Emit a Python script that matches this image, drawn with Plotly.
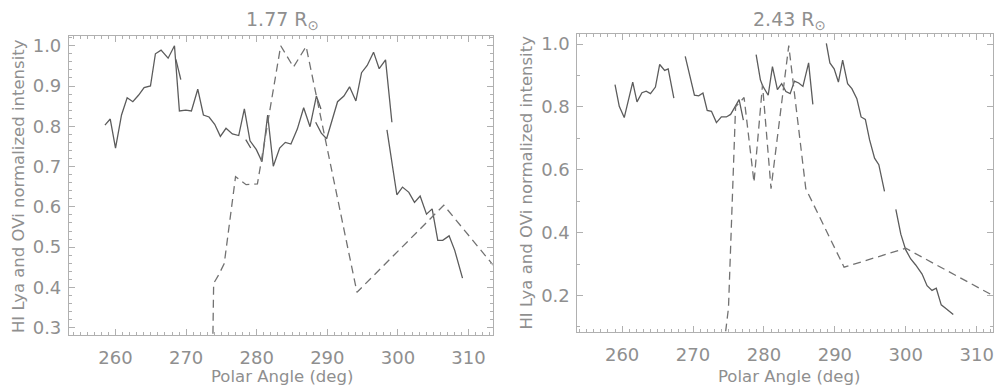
import plotly.graph_objects as go

# ---------------- data: left panel (1.77 Rsun) ----------------
l_solid_a_x = [258.5, 259.25, 260.0, 260.85, 261.65, 262.45, 263.25, 264.05, 264.95, 265.65,
               266.45, 267.45, 268.35, 269.05, 269.95, 270.75, 271.65, 272.45, 273.25, 274.05,
               274.85, 275.65, 276.55, 277.45, 278.25, 279.05, 279.95, 280.75, 281.55, 282.35,
               283.25, 284.05, 284.85, 285.75, 286.65, 287.55, 288.45, 289.1]
l_solid_a_y = [0.803, 0.818, 0.746, 0.828, 0.871, 0.861, 0.877, 0.896, 0.900, 0.980,
               0.989, 0.969, 1.000, 0.838, 0.840, 0.838, 0.892, 0.828, 0.823, 0.805,
               0.775, 0.795, 0.781, 0.777, 0.843, 0.764, 0.742, 0.712, 0.828, 0.701,
               0.746, 0.760, 0.756, 0.793, 0.846, 0.799, 0.875, 0.843]
l_tail1_x = [268.55, 269.25]
l_tail1_y = [0.966, 0.916]
l_tail2_x = [278.45, 279.15]
l_tail2_y = [0.767, 0.746]
l_solid_c_x = [288.35, 289.15, 289.9, 290.65, 291.45, 292.35, 293.15, 294.05, 294.85, 295.65,
               296.55, 297.35, 298.25, 299.15]
l_solid_c_y = [0.810, 0.783, 0.769, 0.816, 0.861, 0.875, 0.898, 0.863, 0.933, 0.951,
               0.984, 0.943, 0.965, 0.810]
l_solid_d_x = [298.45, 299.05, 299.85, 300.65, 301.55, 302.35, 303.15, 304.05, 304.85, 305.65,
               306.35, 307.25, 308.05, 309.15]
l_solid_d_y = [0.791, 0.722, 0.630, 0.649, 0.636, 0.611, 0.627, 0.582, 0.595, 0.517,
               0.517, 0.528, 0.492, 0.423]
l_dash_x = [273.8, 273.9, 274.6, 275.4, 277.0, 278.5, 280.1, 283.4, 285.2, 287.0, 294.2, 306.5, 314.5]
l_dash_y = [0.285, 0.410, 0.431, 0.459, 0.675, 0.655, 0.657, 1.000, 0.947, 0.998, 0.388, 0.604, 0.434]

# ---------------- data: right panel (2.43 Rsun) ----------------
r_seg1_x = [259.0, 259.6, 260.3, 260.9, 261.5, 262.1, 262.8, 263.4, 264.0, 264.7, 265.3, 266.0, 266.5, 267.3]
r_seg1_y = [0.871, 0.802, 0.766, 0.821, 0.879, 0.816, 0.845, 0.850, 0.842, 0.863, 0.935, 0.916, 0.921, 0.828]
r_seg2_x = [268.9, 269.6, 270.2, 270.8, 271.4, 272.0, 272.6, 273.3, 274.0, 274.7, 275.3, 275.8, 276.5, 277.1]
r_seg2_y = [0.961, 0.895, 0.837, 0.835, 0.844, 0.789, 0.786, 0.750, 0.768, 0.768, 0.776, 0.795, 0.823, 0.758]
r_seg3_x = [278.9, 279.5, 279.8, 280.6, 281.2, 281.9, 282.5, 283.1, 283.7, 284.3, 284.9, 285.5, 286.3, 286.9]
r_seg3_y = [0.966, 0.886, 0.868, 0.837, 0.928, 0.855, 0.874, 0.849, 0.842, 0.882, 0.876, 0.865, 0.940, 0.808]
r_seg4_x = [288.8, 289.3, 289.9, 290.5, 291.1, 291.8, 292.4, 293.1, 293.7, 294.3, 294.9, 295.6, 296.2, 297.0]
r_seg4_y = [1.002, 0.940, 0.921, 0.879, 0.949, 0.874, 0.858, 0.826, 0.768, 0.760, 0.695, 0.637, 0.616, 0.531]
r_seg5_x = [298.6, 299.3, 300.0, 300.7, 301.4, 302.3, 303.0, 303.7, 304.3, 305.0, 305.7, 306.7]
r_seg5_y = [0.474, 0.395, 0.345, 0.316, 0.297, 0.268, 0.231, 0.216, 0.223, 0.170, 0.158, 0.139]
r_dash_x = [274.6, 275.0, 276.0, 277.2, 278.6, 279.8, 281.0, 283.5, 285.9, 288.3, 291.3, 300.0, 313.5]
r_dash_y = [0.085, 0.160, 0.800, 0.830, 0.560, 0.870, 0.540, 0.995, 0.540, 0.430, 0.290, 0.350, 0.185]

# tick / label text
titles = ["1.77 R<sub>⊙</sub>", "2.43 R<sub>⊙</sub>"]
x_title = "Polar Angle (deg)"
y_title = "HI Lya and OVi normalized intensity"

W, H = 994, 391
GREY = "#8f8f8f"
FRAME = "#b0b0b0"
SOLID = "#5c5c5c"
DASH = "#727272"
FONT = "DejaVu Sans"

fig = go.Figure()

def solid(x, y, xa, ya):
    fig.add_trace(go.Scatter(x=x, y=y, mode="lines", xaxis=xa, yaxis=ya,
                             line=dict(color=SOLID, width=1.3), showlegend=False,
                             hoverinfo="skip"))

def dashed(x, y, xa, ya):
    fig.add_trace(go.Scatter(x=x, y=y, mode="lines", xaxis=xa, yaxis=ya,
                             line=dict(color=DASH, width=1.3, dash="8px,5px"),
                             showlegend=False, hoverinfo="skip"))

solid(l_solid_a_x, l_solid_a_y, "x", "y")
solid(l_tail1_x, l_tail1_y, "x", "y")
solid(l_tail2_x, l_tail2_y, "x", "y")
solid(l_solid_c_x, l_solid_c_y, "x", "y")
solid(l_solid_d_x, l_solid_d_y, "x", "y")
dashed(l_dash_x, l_dash_y, "x", "y")

for sx, sy in [(r_seg1_x, r_seg1_y), (r_seg2_x, r_seg2_y), (r_seg3_x, r_seg3_y),
               (r_seg4_x, r_seg4_y), (r_seg5_x, r_seg5_y)]:
    solid(sx, sy, "x2", "y2")
dashed(r_dash_x, r_dash_y, "x2", "y2")

def px_x(p):
    return p / W

def px_y(p):
    return 1 - p / H

tickfont = dict(family=FONT, size=18, color=GREY)

common_x = dict(showgrid=False, zeroline=False, showline=True, linecolor=FRAME, linewidth=1,
                mirror="allticks", ticks="inside", ticklen=6, tickcolor=FRAME, tickwidth=1,
                tickmode="linear", tick0=260, dtick=10, tickfont=tickfont,
                ticklabelstandoff=7,
                minor=dict(ticks="inside", ticklen=3, dtick=1, tickcolor=FRAME, showgrid=False))
common_y = dict(showgrid=False, zeroline=False, showline=True, linecolor=FRAME, linewidth=1,
                mirror="allticks", ticks="inside", ticklen=6, tickcolor=FRAME, tickwidth=1,
                tickfont=tickfont, ticklabelstandoff=3)

fig.update_layout(
    width=W, height=H,
    margin=dict(l=0, r=0, t=0, b=0),
    paper_bgcolor="white", plot_bgcolor="white",
    xaxis=dict(common_x, domain=[px_x(69), px_x(493)], range=[253.4, 313.4], anchor="y"),
    yaxis=dict(common_y, domain=[px_y(337), px_y(35)], range=[0.283, 1.025], anchor="x",
               tickmode="linear", tick0=0.3, dtick=0.1, tickformat=".1f",
               minor=dict(ticks="inside", ticklen=3, dtick=0.02, tickcolor=FRAME, showgrid=False)),
    xaxis2=dict(common_x, domain=[px_x(578), 1.0], range=[253.7, 312.3], anchor="y2"),
    yaxis2=dict(common_y, domain=[px_y(334), px_y(33)], range=[0.085, 1.033], anchor="x2",
                tickmode="linear", tick0=0.2, dtick=0.2, tickformat=".1f",
                minor=dict(ticks="inside", ticklen=3, dtick=0.1, tickcolor=FRAME, showgrid=False)),
)

def ann(text, x, y, size, angle=0):
    return dict(text=text, x=px_x(x), y=px_y(y), xref="paper", yref="paper",
                xanchor="center", yanchor="middle", textangle=angle, showarrow=False,
                font=dict(family=FONT, size=size, color=GREY))

annotations = [
    ann(titles[0], 283, 20, 19),
    ann(titles[1], 790, 20, 19),
    ann(x_title, 282, 379, 16.5),
    ann(x_title, 790, 379, 16.5),
    ann(y_title, 18, 187, 16.5, -90),
    ann(y_title, 527, 183, 16.5, -90),
]
fig.update_layout(annotations=annotations)

fig.write_html("out.html")
